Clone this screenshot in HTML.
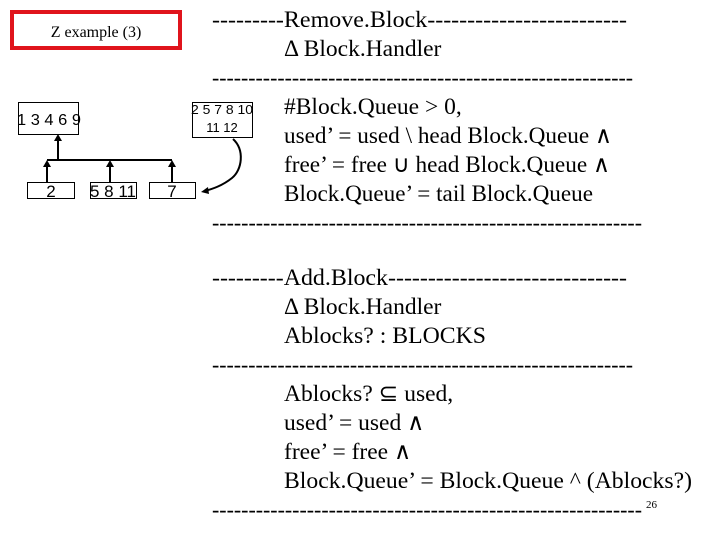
<!DOCTYPE html>
<html><head><meta charset="utf-8"><style>
html,body{margin:0;padding:0;background:#fff;}
svg{display:block;}
.t{font-family:"Liberation Serif",serif;font-size:23.5px;fill:#000;}
.a{font-family:"Liberation Sans",sans-serif;fill:#000;}
</style></head><body>
<svg width="720" height="540" viewBox="0 0 720 540" xmlns="http://www.w3.org/2000/svg">
<rect x="12" y="12" width="168" height="36" fill="#fff" stroke="#e0141c" stroke-width="4"/>
<text x="96" y="37" text-anchor="middle" style="font-family:'Liberation Serif',serif;font-size:16px">Z example (3)</text>

<g stroke="#000" stroke-width="1" fill="#fff">
<rect x="18.5" y="102.5" width="60" height="32"/>
<rect x="192.5" y="102.5" width="60" height="35"/>
<rect x="27.5" y="182.5" width="47" height="16"/>
<rect x="90.5" y="182.5" width="46" height="16"/>
<rect x="149.5" y="182.5" width="46" height="16"/>
</g>
<text class="a" x="49" y="125" text-anchor="middle" font-size="16" textLength="64" lengthAdjust="spacingAndGlyphs">1 3 4 6 9</text>
<text class="a" x="222" y="114" text-anchor="middle" font-size="13" textLength="62" lengthAdjust="spacingAndGlyphs">2 5 7 8 10</text>
<text class="a" x="222" y="132" text-anchor="middle" font-size="13">11 12</text>
<text class="a" x="51" y="197" text-anchor="middle" font-size="17">2</text>
<text class="a" x="113" y="197" text-anchor="middle" font-size="17" textLength="46" lengthAdjust="spacingAndGlyphs">5 8 11</text>
<text class="a" x="172" y="197" text-anchor="middle" font-size="17">7</text>

<g stroke="#000" stroke-width="2" fill="none">
<line x1="47" y1="160" x2="172" y2="160"/>
<line x1="58" y1="160" x2="58" y2="138"/>
<line x1="47" y1="182" x2="47" y2="164"/>
<line x1="110" y1="182" x2="110" y2="164"/>
<line x1="172" y1="182" x2="172" y2="164"/>
<path d="M233 139 C245 150 242 170 232 178 C222 186 212 189 205 191"/>
</g>
<g fill="#000">
<polygon points="58,134 54,141 62,141"/>
<polygon points="47,160 43,167 51,167"/>
<polygon points="110,160 106,167 114,167"/>
<polygon points="172,160 168,167 176,167"/>
<polygon points="201,192 208,187 209,194"/>
</g>

<text class="t" x="212" y="27" textLength="415" lengthAdjust="spacingAndGlyphs">---------Remove.Block-------------------------</text>
<text class="t" x="284" y="56">Δ Block.Handler</text>
<text class="t" x="212" y="85" textLength="421" lengthAdjust="spacingAndGlyphs">----------------------------------------------------------</text>
<text class="t" x="284" y="114">#Block.Queue &gt; 0,</text>
<text class="t" x="284" y="143" textLength="328" lengthAdjust="spacingAndGlyphs">used’ = used \ head Block.Queue ∧</text>
<text class="t" x="284" y="172" textLength="326" lengthAdjust="spacingAndGlyphs">free’ = free ∪ head Block.Queue ∧</text>
<text class="t" x="284" y="201" textLength="309" lengthAdjust="spacingAndGlyphs">Block.Queue’ = tail Block.Queue</text>
<text class="t" x="212" y="230" textLength="430" lengthAdjust="spacingAndGlyphs">-----------------------------------------------------------</text>

<text class="t" x="212" y="285" textLength="415" lengthAdjust="spacingAndGlyphs">---------Add.Block------------------------------</text>
<text class="t" x="284" y="314">Δ Block.Handler</text>
<text class="t" x="284" y="343" textLength="202" lengthAdjust="spacingAndGlyphs">Ablocks? : BLOCKS</text>
<text class="t" x="212" y="372" textLength="421" lengthAdjust="spacingAndGlyphs">----------------------------------------------------------</text>
<text class="t" x="284" y="401">Ablocks? ⊆ used,</text>
<text class="t" x="284" y="430">used’ = used ∧</text>
<text class="t" x="284" y="459">free’ = free ∧</text>
<text class="t" x="284" y="488" textLength="408" lengthAdjust="spacingAndGlyphs">Block.Queue’ = Block.Queue  ^ (Ablocks?)</text>
<text class="t" x="212" y="517" textLength="430" lengthAdjust="spacingAndGlyphs">-----------------------------------------------------------</text>
<text x="646" y="508" style="font-family:'Liberation Serif',serif;font-size:11px">26</text>
</svg>
</body></html>
